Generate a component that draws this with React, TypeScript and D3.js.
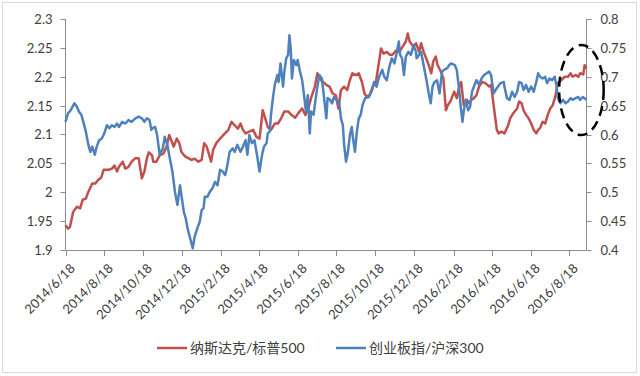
import React from 'react';
import * as d3 from 'd3';

// ---------- data ----------
const seriesNames = ['纳斯达克/标普500', '创业板指/沪深300'];

const xTickLabels = [
  '2014/6/18', '2014/8/18', '2014/10/18', '2014/12/18',
  '2015/2/18', '2015/4/18', '2015/6/18', '2015/8/18', '2015/10/18', '2015/12/18',
  '2016/2/18', '2016/4/18', '2016/6/18', '2016/8/18',
];
const xDomain = ['2014-06-18', '2016-09-14'];

const leftTicks = [1.9, 1.95, 2, 2.05, 2.1, 2.15, 2.2, 2.25, 2.3];
const rightTicks = [0.4, 0.45, 0.5, 0.55, 0.6, 0.65, 0.7, 0.75, 0.8];

// 纳斯达克/标普500 (left axis)
const nasdaqSp500: [string, number][] = [
  ['2014-06-18', 1.943], ['2014-06-22', 1.937], ['2014-06-25', 1.940], ['2014-06-30', 1.966],
  ['2014-07-06', 1.975], ['2014-07-11', 1.972], ['2014-07-15', 1.987], ['2014-07-20', 1.989],
  ['2014-07-24', 2.001], ['2014-07-30', 2.015], ['2014-08-04', 2.015], ['2014-08-08', 2.021],
  ['2014-08-13', 2.025], ['2014-08-17', 2.039], ['2014-08-25', 2.039], ['2014-08-30', 2.041],
  ['2014-09-03', 2.046], ['2014-09-07', 2.036], ['2014-09-10', 2.044], ['2014-09-16', 2.053],
  ['2014-09-20', 2.041], ['2014-09-25', 2.044], ['2014-09-30', 2.053], ['2014-10-06', 2.059],
  ['2014-10-11', 2.059], ['2014-10-16', 2.024], ['2014-10-20', 2.036], ['2014-10-24', 2.059],
  ['2014-10-27', 2.069], ['2014-11-01', 2.064], ['2014-11-03', 2.053], ['2014-11-08', 2.053],
  ['2014-11-13', 2.064], ['2014-11-19', 2.067], ['2014-11-24', 2.079], ['2014-11-28', 2.099],
  ['2014-12-02', 2.088], ['2014-12-05', 2.079], ['2014-12-10', 2.093], ['2014-12-14', 2.085],
  ['2014-12-17', 2.070], ['2014-12-23', 2.062], ['2014-12-28', 2.059], ['2015-01-02', 2.056],
  ['2015-01-07', 2.058], ['2015-01-13', 2.053], ['2015-01-18', 2.056], ['2015-01-22', 2.085],
  ['2015-01-26', 2.079], ['2015-01-30', 2.064], ['2015-02-02', 2.053], ['2015-02-05', 2.073],
  ['2015-02-10', 2.085], ['2015-02-16', 2.093], ['2015-02-21', 2.099], ['2015-03-01', 2.108],
  ['2015-03-06', 2.122], ['2015-03-11', 2.116], ['2015-03-16', 2.110], ['2015-03-20', 2.119],
  ['2015-03-24', 2.108], ['2015-03-28', 2.102], ['2015-04-03', 2.105], ['2015-04-09', 2.108],
  ['2015-04-14', 2.096], ['2015-04-19', 2.093], ['2015-04-24', 2.142], ['2015-04-28', 2.128],
  ['2015-05-02', 2.113], ['2015-05-07', 2.108], ['2015-05-13', 2.119], ['2015-05-18', 2.119],
  ['2015-05-23', 2.128], ['2015-05-28', 2.140], ['2015-06-03', 2.140], ['2015-06-08', 2.134],
  ['2015-06-14', 2.129], ['2015-06-19', 2.137], ['2015-06-25', 2.145], ['2015-06-30', 2.134],
  ['2015-07-04', 2.142], ['2015-07-09', 2.163], ['2015-07-15', 2.183], ['2015-07-19', 2.206],
  ['2015-07-22', 2.197], ['2015-07-28', 2.191], ['2015-08-02', 2.186], ['2015-08-07', 2.183],
  ['2015-08-12', 2.171], ['2015-08-17', 2.168], ['2015-08-21', 2.145], ['2015-08-25', 2.177],
  ['2015-08-30', 2.183], ['2015-09-04', 2.177], ['2015-09-08', 2.194], ['2015-09-12', 2.206],
  ['2015-09-18', 2.203], ['2015-09-22', 2.206], ['2015-09-27', 2.191], ['2015-10-01', 2.171],
  ['2015-10-04', 2.166], ['2015-10-09', 2.168], ['2015-10-14', 2.183], ['2015-10-19', 2.191],
  ['2015-10-23', 2.220], ['2015-10-27', 2.249], ['2015-10-31', 2.240], ['2015-11-05', 2.243],
  ['2015-11-10', 2.238], ['2015-11-14', 2.238], ['2015-11-20', 2.246], ['2015-11-25', 2.243],
  ['2015-11-30', 2.252], ['2015-12-05', 2.261], ['2015-12-08', 2.275], ['2015-12-11', 2.261],
  ['2015-12-17', 2.252], ['2015-12-21', 2.258], ['2015-12-26', 2.243], ['2015-12-29', 2.258],
  ['2016-01-02', 2.243], ['2016-01-07', 2.229], ['2016-01-10', 2.220], ['2016-01-14', 2.206],
  ['2016-01-17', 2.226], ['2016-01-21', 2.235], ['2016-01-24', 2.220], ['2016-01-29', 2.209],
  ['2016-02-02', 2.197], ['2016-02-06', 2.142], ['2016-02-09', 2.151], ['2016-02-13', 2.157],
  ['2016-02-19', 2.174], ['2016-02-23', 2.163], ['2016-02-27', 2.183], ['2016-03-01', 2.191],
  ['2016-03-05', 2.151], ['2016-03-10', 2.160], ['2016-03-13', 2.154], ['2016-03-17', 2.160],
  ['2016-03-21', 2.163], ['2016-03-25', 2.168], ['2016-03-29', 2.183], ['2016-04-03', 2.191],
  ['2016-04-08', 2.189], ['2016-04-14', 2.183], ['2016-04-17', 2.186], ['2016-04-22', 2.142],
  ['2016-04-26', 2.108], ['2016-04-29', 2.102], ['2016-05-03', 2.105], ['2016-05-08', 2.102],
  ['2016-05-14', 2.116], ['2016-05-17', 2.128], ['2016-05-22', 2.137], ['2016-05-28', 2.145],
  ['2016-05-31', 2.157], ['2016-06-04', 2.154], ['2016-06-07', 2.142], ['2016-06-11', 2.134],
  ['2016-06-15', 2.128], ['2016-06-19', 2.119], ['2016-06-23', 2.108], ['2016-06-27', 2.102],
  ['2016-06-30', 2.108], ['2016-07-03', 2.111], ['2016-07-07', 2.122], ['2016-07-11', 2.119],
  ['2016-07-15', 2.134], ['2016-07-19', 2.145], ['2016-07-23', 2.151], ['2016-07-27', 2.166],
  ['2016-07-31', 2.189], ['2016-08-05', 2.194], ['2016-08-11', 2.200], ['2016-08-16', 2.200],
  ['2016-08-20', 2.206], ['2016-08-23', 2.200], ['2016-08-28', 2.203], ['2016-09-01', 2.200],
  ['2016-09-04', 2.206], ['2016-09-09', 2.204], ['2016-09-11', 2.220], ['2016-09-14', 2.214],
];

// 创业板指/沪深300 (right axis)
const chinextHs300: [string, number][] = [
  ['2014-06-18', 0.622], ['2014-06-22', 0.637], ['2014-06-25', 0.640], ['2014-06-29', 0.648],
  ['2014-07-02', 0.654], ['2014-07-06', 0.648], ['2014-07-09', 0.640], ['2014-07-13', 0.634],
  ['2014-07-16', 0.622], ['2014-07-20', 0.605], ['2014-07-24', 0.582], ['2014-07-27', 0.570],
  ['2014-07-30', 0.579], ['2014-08-03', 0.565], ['2014-08-06', 0.579], ['2014-08-10', 0.590],
  ['2014-08-14', 0.593], ['2014-08-18', 0.602], ['2014-08-22', 0.616], ['2014-08-26', 0.611],
  ['2014-08-30', 0.616], ['2014-09-03', 0.613], ['2014-09-07', 0.619], ['2014-09-10', 0.613],
  ['2014-09-15', 0.622], ['2014-09-20', 0.619], ['2014-09-25', 0.625], ['2014-09-30', 0.622],
  ['2014-10-06', 0.628], ['2014-10-11', 0.631], ['2014-10-16', 0.628], ['2014-10-20', 0.622],
  ['2014-10-24', 0.628], ['2014-10-28', 0.625], ['2014-10-31', 0.608], ['2014-11-02', 0.611],
  ['2014-11-06', 0.613], ['2014-11-09', 0.599], ['2014-11-13', 0.565], ['2014-11-18', 0.576],
  ['2014-11-21', 0.596], ['2014-11-25', 0.582], ['2014-11-29', 0.559], ['2014-12-03', 0.536],
  ['2014-12-07', 0.501], ['2014-12-11', 0.478], ['2014-12-15', 0.512], ['2014-12-18', 0.489],
  ['2014-12-21', 0.466], ['2014-12-24', 0.455], ['2014-12-27', 0.437], ['2014-12-31', 0.420],
  ['2015-01-04', 0.403], ['2015-01-07', 0.423], ['2015-01-11', 0.437], ['2015-01-15', 0.449],
  ['2015-01-18', 0.469], ['2015-01-21', 0.472], ['2015-01-23', 0.492], ['2015-01-27', 0.492],
  ['2015-01-31', 0.501], ['2015-02-04', 0.507], ['2015-02-08', 0.518], ['2015-02-12', 0.512],
  ['2015-02-16', 0.539], ['2015-02-20', 0.536], ['2015-02-24', 0.530], ['2015-02-27', 0.544],
  ['2015-03-03', 0.570], ['2015-03-08', 0.576], ['2015-03-11', 0.570], ['2015-03-15', 0.582],
  ['2015-03-20', 0.570], ['2015-03-24', 0.579], ['2015-03-28', 0.590], ['2015-03-31', 0.565],
  ['2015-04-03', 0.599], ['2015-04-07', 0.585], ['2015-04-11', 0.590], ['2015-04-15', 0.565],
  ['2015-04-19', 0.536], ['2015-04-23', 0.565], ['2015-04-26', 0.579], ['2015-04-30', 0.585],
  ['2015-05-02', 0.602], ['2015-05-05', 0.605], ['2015-05-07', 0.634], ['2015-05-10', 0.663],
  ['2015-05-13', 0.686], ['2015-05-17', 0.703], ['2015-05-19', 0.691], ['2015-05-22', 0.723],
  ['2015-05-26', 0.683], ['2015-05-28', 0.709], ['2015-05-31', 0.732], ['2015-06-03', 0.738],
  ['2015-06-05', 0.772], ['2015-06-07', 0.749], ['2015-06-09', 0.697], ['2015-06-12', 0.729],
  ['2015-06-16', 0.720], ['2015-06-18', 0.729], ['2015-06-21', 0.712], ['2015-06-25', 0.694],
  ['2015-06-28', 0.668], ['2015-07-01', 0.640], ['2015-07-04', 0.668], ['2015-07-07', 0.602],
  ['2015-07-09', 0.640], ['2015-07-13', 0.634], ['2015-07-16', 0.660], ['2015-07-19', 0.683],
  ['2015-07-22', 0.703], ['2015-07-26', 0.697], ['2015-07-29', 0.668], ['2015-08-02', 0.628],
  ['2015-08-04', 0.663], ['2015-08-08', 0.660], ['2015-08-11', 0.654], ['2015-08-14', 0.665],
  ['2015-08-18', 0.660], ['2015-08-22', 0.657], ['2015-08-25', 0.628], ['2015-08-28', 0.616],
  ['2015-08-30', 0.582], ['2015-09-02', 0.553], ['2015-09-05', 0.570], ['2015-09-08', 0.599],
  ['2015-09-11', 0.613], ['2015-09-13', 0.593], ['2015-09-16', 0.570], ['2015-09-19', 0.605],
  ['2015-09-22', 0.628], ['2015-09-25', 0.634], ['2015-09-28', 0.651], ['2015-10-02', 0.663],
  ['2015-10-08', 0.665], ['2015-10-13', 0.677], ['2015-10-16', 0.691], ['2015-10-20', 0.683],
  ['2015-10-24', 0.700], ['2015-10-29', 0.712], ['2015-11-01', 0.700], ['2015-11-05', 0.694],
  ['2015-11-09', 0.717], ['2015-11-13', 0.732], ['2015-11-17', 0.723], ['2015-11-21', 0.743],
  ['2015-11-24', 0.761], ['2015-11-26', 0.738], ['2015-11-29', 0.732], ['2015-12-02', 0.703],
  ['2015-12-05', 0.735], ['2015-12-09', 0.743], ['2015-12-13', 0.738], ['2015-12-17', 0.755],
  ['2015-12-21', 0.743], ['2015-12-22', 0.732], ['2015-12-26', 0.738], ['2015-12-29', 0.743],
  ['2016-01-02', 0.720], ['2016-01-07', 0.691], ['2016-01-10', 0.671], ['2016-01-13', 0.654],
  ['2016-01-16', 0.683], ['2016-01-19', 0.691], ['2016-01-23', 0.694], ['2016-01-27', 0.671],
  ['2016-01-31', 0.709], ['2016-02-03', 0.712], ['2016-02-08', 0.715], ['2016-02-11', 0.720],
  ['2016-02-14', 0.723], ['2016-02-20', 0.720], ['2016-02-23', 0.712], ['2016-02-27', 0.677],
  ['2016-02-29', 0.651], ['2016-03-03', 0.622], ['2016-03-05', 0.640], ['2016-03-08', 0.660],
  ['2016-03-12', 0.642], ['2016-03-15', 0.648], ['2016-03-18', 0.674], ['2016-03-22', 0.686],
  ['2016-03-25', 0.694], ['2016-03-29', 0.686], ['2016-04-02', 0.697], ['2016-04-06', 0.703],
  ['2016-04-10', 0.706], ['2016-04-14', 0.709], ['2016-04-17', 0.703], ['2016-04-21', 0.671],
  ['2016-04-24', 0.677], ['2016-04-28', 0.683], ['2016-05-02', 0.689], ['2016-05-07', 0.691],
  ['2016-05-08', 0.683], ['2016-05-12', 0.663], ['2016-05-16', 0.660], ['2016-05-20', 0.674],
  ['2016-05-24', 0.665], ['2016-05-28', 0.674], ['2016-05-31', 0.691], ['2016-06-04', 0.689],
  ['2016-06-07', 0.677], ['2016-06-11', 0.686], ['2016-06-15', 0.674], ['2016-06-19', 0.683],
  ['2016-06-23', 0.674], ['2016-06-27', 0.691], ['2016-06-30', 0.706], ['2016-07-03', 0.700],
  ['2016-07-07', 0.697], ['2016-07-11', 0.700], ['2016-07-14', 0.689], ['2016-07-18', 0.697],
  ['2016-07-22', 0.694], ['2016-07-26', 0.700], ['2016-07-29', 0.683], ['2016-07-31', 0.663],
  ['2016-08-04', 0.654], ['2016-08-08', 0.660], ['2016-08-12', 0.654], ['2016-08-16', 0.657],
  ['2016-08-20', 0.663], ['2016-08-23', 0.660], ['2016-08-28', 0.663], ['2016-09-01', 0.665],
  ['2016-09-04', 0.660], ['2016-09-08', 0.665], ['2016-09-14', 0.660],
];

// highlighted region (data units, left axis)
const highlightCenter: [string, number] = ['2016-09-06', 2.177];
const highlightRadiusDays = 35;
const highlightRadiusValue = 0.078;

// ---------- chart ----------
const W = 640;
const H = 376;
const plot = { left: 65.5, right: 586.5, top: 19, bottom: 250 };
const RED = '#C0504D';
const BLUE = '#4F81BD';
const AXIS = '#8c8c8c';
const TEXT = '#404040';
const FONT = "Lato, 'Noto Sans CJK SC', sans-serif";

const parseISO = d3.timeParse('%Y-%m-%d');
const parseLabel = d3.timeParse('%Y/%m/%d');

export default function App() {
  const x = d3
    .scaleTime()
    .domain(xDomain.map((s) => parseISO(s) as Date))
    .range([plot.left, plot.right]);
  const yL = d3.scaleLinear().domain([1.9, 2.3]).range([plot.bottom, plot.top]);
  const yR = d3.scaleLinear().domain([0.4, 0.8]).range([plot.bottom, plot.top]);

  const lineL = d3
    .line<[string, number]>()
    .x((d) => x(parseISO(d[0]) as Date))
    .y((d) => yL(d[1]));
  const lineR = d3
    .line<[string, number]>()
    .x((d) => x(parseISO(d[0]) as Date))
    .y((d) => yR(d[1]));

  const hcDate = parseISO(highlightCenter[0]) as Date;
  const hcx = x(hcDate);
  const hcy = yL(highlightCenter[1]);
  const hrx = x(d3.timeDay.offset(hcDate, highlightRadiusDays)) - hcx;
  const hry = yL(highlightCenter[1] - highlightRadiusValue) - hcy;

  const legendY = 348;

  return (
    <svg
      width={W}
      height={H}
      style={{ position: 'absolute', left: 0, top: 0, background: '#fff' }}
      fontFamily={FONT}
    >
      <rect x={2.5} y={2.5} width={634} height={370} fill="#fff" stroke="#d9d9d9" strokeWidth={1} />

      {/* axes */}
      <line x1={plot.left} x2={plot.left} y1={plot.top} y2={plot.bottom} stroke={AXIS} />
      <line x1={plot.right} x2={plot.right} y1={plot.top} y2={plot.bottom} stroke={AXIS} />
      <line x1={plot.left} x2={plot.right} y1={plot.bottom + 0.5} y2={plot.bottom + 0.5} stroke={AXIS} />

      {leftTicks.map((v) => {
        const yy = Math.round(yL(v)) + 0.5;
        return (
          <g key={'l' + v}>
            <line x1={plot.left - 5} x2={plot.left} y1={yy} y2={yy} stroke={AXIS} />
            <text x={plot.left - 13} y={yy} dy="0.35em" textAnchor="end" fontSize={13} fill={TEXT}>
              {String(v)}
            </text>
          </g>
        );
      })}
      {rightTicks.map((v) => {
        const yy = Math.round(yR(v)) + 0.5;
        return (
          <g key={'r' + v}>
            <line x1={plot.right} x2={plot.right + 5} y1={yy} y2={yy} stroke={AXIS} />
            <text x={plot.right + 14} y={yy} dy="0.35em" textAnchor="start" fontSize={13} fill={TEXT}>
              {String(v)}
            </text>
          </g>
        );
      })}
      {xTickLabels.map((lab) => {
        const xx = Math.round(x(parseLabel(lab) as Date)) + 0.5;
        return (
          <g key={lab}>
            <line x1={xx} x2={xx} y1={plot.bottom} y2={plot.bottom + 6} stroke={AXIS} />
            <text
              transform={`translate(${xx + 6},${plot.bottom + 16}) rotate(-45)`}
              dy="0.35em"
              textAnchor="end"
              fontSize={13}
              fill={TEXT}
            >
              {lab}
            </text>
          </g>
        );
      })}

      {/* series */}
      <path d={lineL(nasdaqSp500) || ''} fill="none" stroke={RED} strokeWidth={2.5} strokeLinejoin="round" />
      <path d={lineR(chinextHs300) || ''} fill="none" stroke={BLUE} strokeWidth={2.5} strokeLinejoin="round" />

      {/* highlight ellipse */}
      <ellipse
        cx={hcx}
        cy={hcy}
        rx={hrx}
        ry={hry}
        fill="none"
        stroke="#000"
        strokeWidth={2.5}
        strokeDasharray="10 6"
      />

      {/* legend */}
      <line x1={157} x2={187} y1={legendY} y2={legendY} stroke={RED} strokeWidth={2.5} />
      <text x={190} y={legendY} dy="0.35em" fontSize={14} fill={TEXT}>
        {seriesNames[0]}
      </text>
      <line x1={336} x2={366} y1={legendY} y2={legendY} stroke={BLUE} strokeWidth={2.5} />
      <text x={369} y={legendY} dy="0.35em" fontSize={14} fill={TEXT}>
        {seriesNames[1]}
      </text>
    </svg>
  );
}
